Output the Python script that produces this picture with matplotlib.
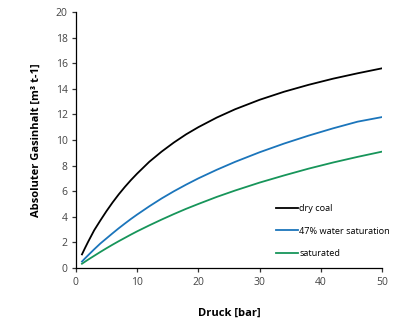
import matplotlib
matplotlib.use("Agg")
import matplotlib.pyplot as plt

pressure = [1, 1.5, 2, 3, 4, 5, 6, 7, 8, 9, 10, 12, 14, 16, 18, 20, 23, 26, 30, 34, 38, 42, 46, 50]
dry_coal = [1.06, 1.56, 2.04, 2.95, 3.71, 4.44, 5.12, 5.75, 6.33, 6.87, 7.37, 8.30, 9.09, 9.80, 10.44, 11.00,
            11.75, 12.40, 13.14, 13.77, 14.31, 14.79, 15.21, 15.60]
water_47 = [0.50, 0.75, 0.99, 1.46, 1.91, 2.31, 2.71, 3.10, 3.47, 3.83, 4.17, 4.82, 5.43, 5.99, 6.51, 7.00,
            7.67, 8.29, 9.04, 9.72, 10.34, 10.91, 11.43, 11.79]
saturated = [0.33, 0.49, 0.65, 0.95, 1.25, 1.54, 1.82, 2.09, 2.35, 2.61, 2.86, 3.33, 3.78, 4.21, 4.62, 5.00,
             5.55, 6.05, 6.67, 7.23, 7.76, 8.24, 8.68, 9.09]
labels = ["dry coal", "47% water saturation", "saturated"]
colors = ["#000000", "#1b75bb", "#17955a"]

plt.rcParams['font.family'] = ['Open Sans', 'DejaVu Sans']

fig = plt.figure(figsize=(4.10, 3.24), dpi=100)
ax = fig.add_axes([0.185, 0.173, 0.747, 0.79])

for ys, lab, c in zip([dry_coal, water_47, saturated], labels, colors):
    ax.plot(pressure, ys, color=c, lw=1.3, label=lab)

ax.set_xlim(0, 50)
ax.set_ylim(0, 20)
ax.set_xticks(range(0, 51, 10))
ax.set_yticks(range(0, 21, 2))
for s in ['top', 'right']:
    ax.spines[s].set_visible(False)
ax.spines['left'].set_linewidth(0.9)
ax.spines['bottom'].set_linewidth(0.9)
ax.tick_params(direction='out', length=3, width=0.9, labelsize=7.5, colors='#333333', labelcolor='#444444')
ax.tick_params(axis='y', pad=3)
ax.set_xlabel("Druck [bar]", fontsize=8, fontweight='bold', labelpad=14)
ax.set_ylabel("Absoluter Gasinhalt [m³ t-1]", fontsize=8, fontweight='bold', labelpad=10)

leg = ax.legend(loc='lower right', bbox_to_anchor=(1.052, 0.005), frameon=False, fontsize=6.6,
                handlelength=2.4, handletextpad=0.1, labelspacing=1.5)

fig.savefig("out.png", dpi=100)
